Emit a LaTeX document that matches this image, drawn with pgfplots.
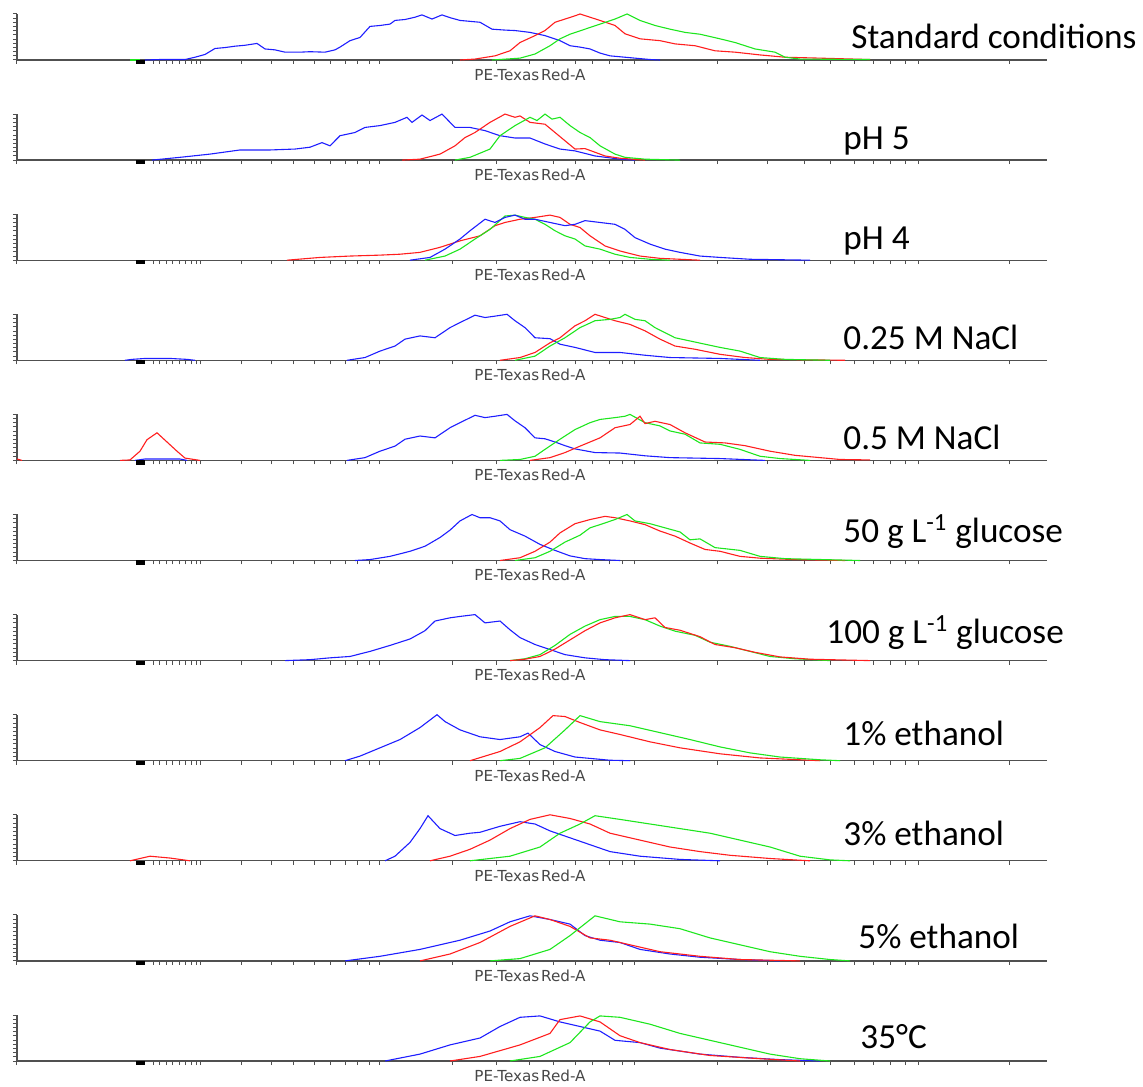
\documentclass[border=0pt]{standalone}
\usepackage{fontspec}
\setmainfont{Carlito}
\newfontfamily\labfont{DejaVu Sans}
\usepackage{pgfplots}
\pgfplotsset{compat=1.18}
\definecolor{cblue}{RGB}{30,30,255}
\definecolor{cred}{RGB}{255,30,30}
\definecolor{cgreen}{RGB}{30,230,30}
\definecolor{axgray}{RGB}{80,80,80}
\pgfplotsset{panel/.style={
  scale only axis, width=515pt, height=23pt,
  xmin=17, xmax=1047, ymin=0, ymax=1,
  axis x line=bottom, axis y line=left,
  axis line style={-, axgray, line width=0.6pt},
  xtick={17,153,159,166,172,179,185,191,196,200,241,271,293,314,330,345,357,369,379,452,496,529,553,575,592,609,622,634,717,767,804,830,854,873,890,905,918,1009},
  xticklabels={},
  ytick={0,0.0909,0.1818,0.2727,0.3636,0.4545,0.5454,0.6363,0.7272,0.8181,0.9090,1},
  yticklabels={},
  tick align=outside, major tick length=2pt,
  tick style={axgray, line width=0.5pt},
  clip=false, anchor=south west,
  every axis plot/.append style={line width=0.55pt, no markers},
}}
\newcommand{\deco}[3]{%
  \fill[black] (axis cs:136,0) rectangle (axis cs:145,-0.09);
  \node[font=\labfont\fontsize{7.6}{8}\selectfont, text=black!72] at (axis cs:530,-0.32) {PE-Texas\hspace{0.12em}Red-A};
  \node[anchor=base west, font=\fontsize{17.6}{20}\selectfont, inner sep=0pt] at (axis cs:#1,#2) {#3};
}
\begin{document}
\begin{tikzpicture}
\path[use as bounding box] (0,0) rectangle (571.5pt,543pt);
% Panel 1
\begin{axis}[panel, at={(8.5pt,513pt)}]
\addplot[cgreen] coordinates {(130,0)(140,0)};
\addplot[cblue] coordinates {(145,0)(160,0.01)(185,0.01)(195,0.06)(205,0.12)(215,0.25)(225,0.27)(235,0.30)(245,0.32)(257,0.36)(265,0.24)(275,0.22)(285,0.17)(300,0.17)(310,0.18)(325,0.17)(335,0.22)(340,0.28)(350,0.42)(360,0.49)(370,0.73)(380,0.75)(390,0.78)(395,0.86)(405,0.88)(415,0.93)(422,0.98)(432,0.89)(442,0.98)(450,0.92)(460,0.86)(470,0.84)(480,0.82)(492,0.67)(505,0.65)(515,0.64)(530,0.60)(545,0.53)(560,0.42)(570,0.31)(580,0.28)(590,0.24)(600,0.15)(610,0.09)(625,0.06)(635,0.04)(650,0.01)(660,0)};
\addplot[cred] coordinates {(460,0)(475,0.02)(495,0.09)(510,0.20)(520,0.38)(535,0.53)(545,0.64)(555,0.82)(565,0.89)(575,0.96)(580,1.0)(590,0.93)(600,0.86)(615,0.75)(625,0.57)(640,0.46)(660,0.42)(675,0.35)(695,0.31)(715,0.20)(735,0.17)(760,0.11)(785,0.06)(820,0.04)(870,0.01)};
\addplot[cgreen] coordinates {(492,0)(520,0.04)(535,0.13)(550,0.31)(560,0.46)(570,0.56)(585,0.67)(600,0.78)(615,0.89)(627,1.0)(640,0.86)(655,0.75)(670,0.67)(685,0.60)(700,0.56)(720,0.46)(735,0.38)(755,0.24)(775,0.17)(785,0.06)(800,0.02)(870,0.01)};
\deco{851}{0.24}{Standard conditions}
\end{axis}
% Panel 2
\begin{axis}[panel, at={(8.5pt,462.95pt)}]
\addplot[cblue] coordinates {(152,0)(180,0.06)(210,0.13)(240,0.22)(270,0.22)(295,0.24)(310,0.28)(322,0.38)(330,0.31)(340,0.53)(355,0.60)(365,0.71)(380,0.75)(395,0.82)(407,0.93)(412,0.82)(422,0.98)(430,0.86)(442,1.0)(455,0.71)(470,0.71)(485,0.64)(500,0.53)(515,0.48)(530,0.48)(545,0.35)(560,0.24)(575,0.20)(595,0.09)(620,0.02)(635,0)};
\addplot[cred] coordinates {(402,0)(420,0.02)(440,0.13)(455,0.31)(465,0.49)(475,0.60)(490,0.82)(505,1.0)(515,0.93)(520,0.96)(530,0.82)(545,0.78)(555,0.60)(565,0.42)(575,0.24)(585,0.25)(595,0.17)(605,0.09)(620,0.04)(645,0)};
\addplot[cgreen] coordinates {(455,0)(470,0.06)(490,0.24)(500,0.53)(515,0.75)(530,0.93)(537,0.86)(545,1.0)(552,0.89)(560,0.93)(570,0.75)(580,0.60)(590,0.49)(600,0.31)(615,0.13)(625,0.06)(645,0.02)(680,0)};
\deco{843}{0.24}{pH 5}
\end{axis}
% Panel 3
\begin{axis}[panel, at={(8.5pt,412.9pt)}]
\addplot[cred] coordinates {(287,0)(320,0.06)(350,0.09)(380,0.11)(400,0.13)(420,0.17)(440,0.28)(460,0.42)(480,0.53)(495,0.75)(505,0.82)(520,0.89)(535,0.93)(550,0.98)(560,0.93)(570,0.78)(580,0.71)(590,0.53)(605,0.31)(620,0.20)(640,0.09)(660,0.04)(700,0)};
\addplot[cgreen] coordinates {(425,0)(445,0.09)(460,0.24)(475,0.46)(490,0.67)(505,0.96)(515,0.98)(525,0.93)(535,0.89)(545,0.78)(555,0.64)(565,0.53)(575,0.46)(585,0.31)(600,0.24)(615,0.13)(630,0.06)(650,0.02)(670,0)};
\addplot[cblue] coordinates {(410,0)(430,0.06)(445,0.24)(460,0.46)(470,0.64)(485,0.89)(495,0.82)(505,0.93)(515,0.98)(525,0.89)(535,0.89)(550,0.82)(565,0.75)(575,0.78)(585,0.86)(600,0.82)(615,0.78)(625,0.67)(635,0.49)(650,0.35)(665,0.24)(680,0.17)(700,0.09)(720,0.06)(750,0.02)(810,0)};
\deco{843}{0.24}{pH 4}
\end{axis}
% Panel 4
\begin{axis}[panel, at={(8.5pt,362.85pt)}]
\addplot[cblue] coordinates {(125,0)(132,0.02)(145,0.04)(170,0.04)(187,0.02)(195,0)};
\addplot[cblue] coordinates {(347,0)(365,0.06)(380,0.20)(395,0.31)(405,0.46)(420,0.53)(435,0.49)(450,0.71)(460,0.82)(475,0.98)(485,0.93)(495,0.96)(507,1.0)(515,0.86)(525,0.71)(535,0.49)(550,0.47)(560,0.35)(575,0.28)(595,0.17)(620,0.17)(645,0.11)(670,0.06)(720,0.04)(760,0)};
\addplot[cred] coordinates {(500,0)(520,0.06)(535,0.17)(550,0.38)(560,0.49)(575,0.75)(585,0.86)(595,1.0)(605,0.93)(615,0.86)(630,0.78)(645,0.64)(660,0.46)(675,0.31)(695,0.24)(720,0.13)(745,0.06)(770,0.02)(845,0)};
\addplot[cgreen] coordinates {(515,0)(535,0.09)(550,0.31)(565,0.49)(580,0.71)(595,0.86)(610,0.89)(620,0.93)(625,1.0)(635,0.89)(645,0.86)(655,0.71)(665,0.60)(675,0.49)(690,0.42)(705,0.35)(720,0.28)(740,0.20)(760,0.06)(785,0.02)(830,0)};
\deco{843}{0.24}{0.25 M NaCl}
\end{axis}
% Panel 5
\begin{axis}[panel, at={(8.5pt,312.8pt)}]
\addplot[cred] coordinates {(17,0.03)(22,0)};
\addplot[cred] coordinates {(120,0)(130,0.01)(140,0.2)(147,0.45)(157,0.6)(167,0.4)(177,0.2)(185,0.05)(200,0)};
\addplot[cblue] coordinates {(135,0)(145,0.03)(180,0.03)(187,0)};
\addplot[cblue] coordinates {(347,0)(365,0.06)(380,0.20)(395,0.31)(405,0.46)(420,0.53)(435,0.49)(450,0.71)(460,0.82)(475,0.98)(485,0.93)(495,0.96)(507,1.0)(515,0.86)(525,0.71)(535,0.49)(545,0.47)(555,0.40)(565,0.32)(575,0.25)(595,0.17)(620,0.16)(645,0.10)(670,0.06)(720,0.04)(765,0)};
\addplot[cgreen] coordinates {(500,0)(520,0.02)(535,0.09)(545,0.24)(560,0.46)(575,0.67)(590,0.82)(600,0.89)(615,0.93)(625,0.96)(630,1.0)(645,0.82)(660,0.75)(670,0.64)(685,0.57)(700,0.38)(720,0.35)(740,0.24)(760,0.09)(780,0.04)(810,0)};
\addplot[cred] coordinates {(530,0)(550,0.06)(565,0.17)(580,0.31)(600,0.49)(615,0.71)(630,0.78)(640,0.96)(645,0.80)(655,0.85)(670,0.78)(685,0.60)(705,0.40)(725,0.38)(745,0.32)(770,0.20)(795,0.11)(820,0.06)(840,0.02)(870,0.01)};
\deco{843}{0.24}{0.5 M NaCl}
\end{axis}
% Panel 6
\begin{axis}[panel, at={(8.5pt,262.75pt)}]
\addplot[cblue] coordinates {(355,0)(370,0.02)(390,0.09)(410,0.20)(425,0.31)(440,0.50)(450,0.66)(460,0.86)(472,1.0)(480,0.93)(490,0.93)(500,0.86)(510,0.67)(525,0.53)(540,0.35)(555,0.22)(570,0.10)(585,0.04)(600,0.02)(620,0)};
\addplot[cred] coordinates {(500,0)(520,0.06)(535,0.20)(550,0.40)(560,0.60)(575,0.80)(590,0.89)(605,0.96)(615,0.93)(630,0.86)(645,0.78)(660,0.64)(675,0.53)(690,0.38)(705,0.24)(720,0.20)(740,0.09)(760,0.05)(795,0.02)(845,0)};
\addplot[cgreen] coordinates {(515,0)(535,0.06)(550,0.20)(565,0.40)(580,0.55)(590,0.71)(600,0.78)(615,0.89)(627,1.0)(635,0.86)(650,0.80)(665,0.71)(680,0.62)(690,0.45)(700,0.47)(715,0.28)(740,0.22)(760,0.09)(785,0.04)(860,0)};
\deco{843}{0.39}{50 g L\textsuperscript{-1} glucose}
\end{axis}
% Panel 7
\begin{axis}[panel, at={(8.5pt,212.7pt)}]
\addplot[cblue] coordinates {(285,0)(310,0.02)(330,0.06)(350,0.09)(370,0.20)(390,0.33)(410,0.47)(425,0.65)(435,0.86)(450,0.93)(460,0.96)(475,1.0)(485,0.82)(500,0.86)(510,0.67)(520,0.50)(535,0.35)(550,0.24)(565,0.13)(585,0.06)(605,0.02)(630,0)};
\addplot[cgreen] coordinates {(510,0)(525,0.04)(540,0.13)(555,0.33)(570,0.57)(585,0.75)(600,0.89)(615,0.96)(630,0.96)(645,0.89)(660,0.75)(675,0.64)(695,0.55)(710,0.40)(730,0.31)(750,0.20)(770,0.09)(795,0.04)(830,0)};
\addplot[cred] coordinates {(510,0)(525,0.03)(540,0.09)(555,0.25)(570,0.45)(585,0.65)(600,0.82)(615,0.93)(630,1.0)(645,0.89)(655,0.93)(665,0.72)(680,0.66)(700,0.52)(715,0.35)(735,0.28)(755,0.18)(780,0.08)(810,0.03)(870,0)};
\deco{826}{0.37}{100 g L\textsuperscript{-1} glucose}
\end{axis}
% Panel 8
\begin{axis}[panel, at={(8.5pt,162.65pt)}]
\addplot[cblue] coordinates {(345,0)(360,0.1)(380,0.28)(400,0.46)(420,0.72)(437,1.0)(445,0.85)(460,0.67)(480,0.52)(500,0.46)(520,0.52)(528,0.60)(540,0.35)(555,0.2)(575,0.08)(610,0.01)(630,0)};
\addplot[cred] coordinates {(470,0)(500,0.2)(520,0.41)(540,0.72)(553,0.98)(565,0.96)(580,0.83)(600,0.67)(620,0.57)(650,0.41)(680,0.28)(720,0.15)(760,0.06)(820,0)};
\addplot[cgreen] coordinates {(500,0)(520,0.05)(545,0.28)(565,0.67)(580,0.98)(600,0.85)(630,0.76)(660,0.61)(690,0.46)(720,0.30)(750,0.17)(780,0.08)(820,0.02)(840,0)};
\deco{843}{0.33}{1\% ethanol}
\end{axis}
% Panel 9
\begin{axis}[panel, at={(8.5pt,112.6pt)}]
\addplot[cred] coordinates {(130,0)(150,0.1)(170,0.06)(190,0)};
\addplot[cblue] coordinates {(385,0)(395,0.1)(410,0.4)(420,0.7)(428,0.98)(440,0.7)(455,0.55)(470,0.6)(480,0.62)(500,0.75)(520,0.85)(535,0.8)(550,0.65)(570,0.5)(590,0.35)(610,0.2)(640,0.1)(680,0.03)(720,0)};
\addplot[cred] coordinates {(430,0)(450,0.1)(470,0.25)(490,0.45)(510,0.7)(530,0.9)(550,1.0)(570,0.92)(590,0.8)(610,0.6)(640,0.45)(670,0.3)(700,0.2)(730,0.12)(770,0.05)(810,0)};
\addplot[cgreen] coordinates {(470,0)(510,0.1)(540,0.3)(560,0.6)(580,0.8)(595,0.98)(620,0.9)(650,0.8)(680,0.7)(710,0.6)(740,0.45)(770,0.3)(800,0.1)(830,0.02)(850,0)};
\deco{843}{0.33}{3\% ethanol}
\end{axis}
% Panel 10
\begin{axis}[panel, at={(8.5pt,62.55pt)}]
\addplot[cblue] coordinates {(345,0)(380,0.1)(420,0.25)(460,0.45)(490,0.65)(510,0.85)(530,0.98)(550,0.9)(570,0.8)(585,0.55)(600,0.45)(620,0.4)(640,0.25)(670,0.15)(700,0.08)(740,0.03)(780,0)};
\addplot[cred] coordinates {(420,0)(450,0.15)(480,0.4)(510,0.75)(535,0.98)(550,0.9)(570,0.75)(590,0.5)(610,0.45)(630,0.35)(660,0.2)(700,0.1)(740,0.03)(800,0)};
\addplot[cgreen] coordinates {(490,0)(520,0.05)(550,0.25)(570,0.55)(595,0.98)(620,0.85)(650,0.8)(680,0.7)(710,0.5)(740,0.35)(770,0.2)(800,0.1)(830,0.03)(850,0)};
\deco{858}{0.28}{5\% ethanol}
\end{axis}
% Panel 11
\begin{axis}[panel, at={(8.5pt,12.5pt)}]
\addplot[cblue] coordinates {(385,0)(420,0.15)(450,0.35)(480,0.5)(500,0.75)(520,0.95)(540,0.98)(560,0.85)(580,0.75)(600,0.65)(615,0.45)(640,0.4)(660,0.28)(700,0.15)(740,0.08)(780,0.03)(820,0)};
\addplot[cred] coordinates {(450,0)(480,0.1)(520,0.35)(550,0.6)(560,0.9)(580,0.98)(600,0.85)(620,0.55)(640,0.4)(670,0.25)(710,0.12)(760,0.05)(800,0)};
\addplot[cgreen] coordinates {(510,0)(540,0.1)(570,0.4)(590,0.85)(600,0.98)(620,0.95)(650,0.8)(680,0.6)(710,0.45)(740,0.3)(770,0.15)(800,0.05)(830,0)};
\deco{860}{0.28}{35°C}
\end{axis}
\end{tikzpicture}
\end{document}
